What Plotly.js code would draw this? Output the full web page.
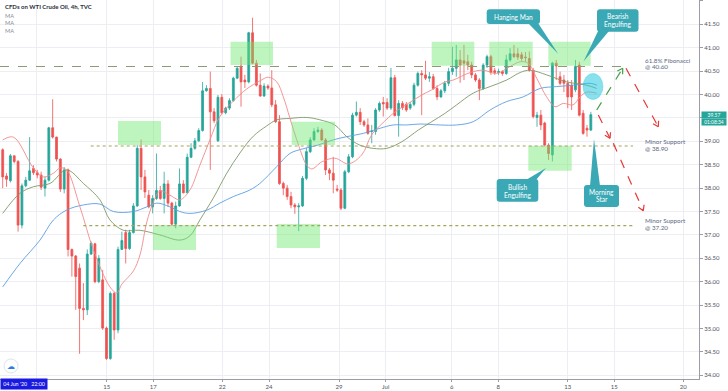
<!DOCTYPE html>
<html><head><meta charset="utf-8">
<script src="https://cdn.plot.ly/plotly-3.0.1.min.js"></script>
<style>html,body{margin:0;padding:0;background:#fff;}#chart{width:728px;height:391px;}</style>
</head><body><div id="chart"></div>
<script>
// ---- data (4h bars) ----
const opens = [38.82,38.26,38.16,38.69,38.57,37.21,38.05,38.17,38.42,38.33,
38.28,38.00,38.17,39.29,39.09,38.62,37.98,38.39,36.69,36.55,
36.29,35.43,35.40,36.59,36.81,36.00,36.04,35.01,34.36,35.75,
34.97,36.69,37.05,36.71,37.05,37.62,38.85,38.24,37.85,37.60,
37.78,37.95,37.78,38.09,37.68,37.23,37.62,38.09,37.90,38.66,
38.85,39.01,39.23,40.08,40.13,39.63,39.01,39.94,39.61,39.71,
39.87,40.35,40.61,40.31,40.27,41.32,40.67,40.20,39.97,40.18,
40.14,39.78,39.42,38.10,38.00,37.82,37.64,37.60,37.62,38.21,
38.78,39.03,39.21,39.24,39.03,38.39,38.32,37.98,37.96,37.57,
38.35,38.67,39.56,39.62,39.42,39.35,39.21,39.21,39.67,39.83,
39.83,39.71,40.36,39.55,39.81,39.79,39.71,39.79,40.20,40.45,
40.42,40.35,40.38,40.13,39.95,40.08,40.24,40.49,40.56,40.74,
40.72,40.70,40.63,40.42,40.31,40.13,40.63,40.81,40.51,40.47,
40.49,40.45,40.74,40.87,40.87,40.85,40.80,40.77,40.52,39.51,
39.56,39.39,38.92,38.71,40.67,40.38,40.31,40.24,40.20,40.10,
40.63,39.60,39.28,39.24];
const highs = [38.85,38.32,38.73,38.70,38.60,38.10,38.24,39.09,38.49,38.39,
38.35,38.24,39.31,39.90,39.10,38.64,38.45,38.42,36.71,36.57,
36.39,35.97,36.69,36.86,36.83,36.57,36.25,35.04,35.79,35.79,
36.75,37.07,37.11,37.11,37.68,38.92,39.04,38.39,37.96,37.85,
38.74,38.05,38.35,38.17,37.71,37.71,38.42,38.17,38.74,38.96,
39.07,39.28,40.27,40.20,40.49,39.71,39.99,40.01,39.74,39.92,
40.38,40.60,40.81,40.42,41.34,41.64,40.74,40.45,40.24,40.22,
40.52,39.88,39.56,38.14,38.07,37.92,37.68,37.68,38.26,38.86,
39.09,39.28,39.31,39.28,39.07,38.43,38.67,38.07,38.00,38.39,
38.73,39.61,39.85,39.71,39.46,39.49,39.35,39.71,39.85,39.95,
39.92,40.57,40.42,39.88,39.86,39.84,39.84,40.25,40.49,40.52,
40.72,40.48,40.44,40.20,40.12,40.29,40.57,41.02,41.06,40.95,
41.06,40.85,40.70,40.46,40.35,40.67,40.85,40.85,40.57,40.55,
40.52,40.85,40.99,41.06,40.99,40.91,40.91,40.92,40.57,39.63,
39.67,39.42,38.96,40.70,40.74,40.49,40.42,40.31,40.31,40.74,
40.70,39.67,39.35,39.63];
const lows = [38.00,38.03,38.12,38.53,37.07,37.14,38.02,38.16,38.28,38.21,
37.96,37.82,38.14,39.06,38.57,37.92,37.89,36.54,36.11,35.40,
34.46,35.18,35.29,36.57,35.97,35.97,34.97,34.33,34.33,34.76,
34.90,36.68,36.39,36.68,37.03,37.60,37.96,37.79,37.57,37.46,
37.75,37.75,37.46,37.60,37.19,37.14,37.60,37.89,37.89,38.64,
38.82,38.99,39.21,40.06,38.39,39.39,38.99,39.58,39.58,39.67,
39.85,40.33,39.74,40.14,40.24,40.65,40.17,39.95,39.95,40.10,
39.73,39.39,38.07,37.85,37.75,37.57,37.45,37.08,37.60,38.17,
38.75,39.01,39.18,39.01,38.28,38.17,37.89,37.92,37.53,37.55,
38.32,38.64,39.53,39.35,39.31,39.14,38.96,39.14,39.63,39.53,
39.67,39.67,39.53,39.10,39.67,39.63,39.67,39.75,40.17,39.56,
40.31,40.27,40.10,39.88,39.93,40.03,40.18,40.42,40.38,40.25,
40.31,40.52,40.35,40.27,39.88,40.10,40.57,40.42,40.42,40.42,
40.40,40.42,40.70,40.78,40.74,40.72,40.70,40.49,39.49,39.31,
39.24,38.89,38.60,38.57,40.31,40.20,40.05,39.71,39.67,40.05,
39.53,39.14,39.10,39.22];
const closes = [38.24,38.19,38.69,38.57,37.21,38.05,38.17,38.37,38.33,38.28,
38.02,38.17,39.29,39.09,38.62,37.98,38.39,36.69,36.55,36.11,
35.43,35.40,36.59,36.82,36.00,36.50,35.01,34.36,35.75,34.97,
36.69,36.88,36.71,37.05,37.62,38.85,38.24,37.92,37.60,37.78,
37.95,37.78,38.09,37.68,37.23,37.62,38.09,37.90,38.66,38.85,
39.01,39.23,40.08,40.13,39.63,39.44,39.94,39.61,39.71,39.87,
40.35,40.56,40.27,40.27,41.32,40.67,40.20,39.97,40.18,40.14,
39.78,39.42,38.10,38.00,37.82,37.64,37.60,37.62,38.21,38.78,
39.03,39.21,39.24,39.03,38.39,38.32,38.17,37.96,37.57,38.35,
38.67,39.56,39.62,39.42,39.35,39.17,39.22,39.67,39.81,39.80,
39.71,40.36,39.55,39.81,39.72,39.67,39.79,40.20,40.45,40.42,
40.35,40.38,40.13,39.95,40.08,40.24,40.49,40.56,40.74,40.63,
40.67,40.63,40.42,40.31,40.13,40.63,40.81,40.47,40.47,40.49,
40.45,40.74,40.87,40.81,40.80,40.77,40.79,40.52,39.53,39.56,
39.35,38.92,38.74,40.67,40.61,40.24,40.24,39.95,39.95,40.60,
39.56,39.17,39.24,39.57];

// moving averages (x = bar number)
const maFastX = [0,2.8,8,10.6,13.2,14.9,16.6,20.1,23.6,27.9,29.7,31,34,35.7,37.5,39.2,40.9,43.5,46.1,48.7,51.3,53.9,56.5,60,63.5,66.9,69.1,71.3,73,74.7,76.5,79.1,80.4,83,86.4,89.9,93.4,96,98.6,102.1,105.5,109,111.6,115.1,117.2,121.6,125,128.5,132,134.6,136.7,138.9,141.5,143.7,145.8,148.4,150.2,151.9,154.5];
const maFastY = [39.03,39.09,38.43,38.24,38.32,38.43,38.39,37.60,36.68,35.89,35.76,35.95,36.23,36.57,37.28,37.70,37.94,37.85,37.75,37.96,38.49,39.03,39.53,39.86,40.12,40.29,40.37,40.27,39.95,39.50,39.03,38.49,38.41,38.56,38.64,38.52,38.71,39.14,39.37,39.63,39.81,39.99,40.10,40.27,40.31,40.47,40.52,40.45,40.60,40.70,40.67,40.35,39.95,39.74,39.81,39.78,39.95,40.05,40.03];
const maMidX = [0,4.5,8,12.3,16.6,21,25.3,27.9,31.4,35.7,40.9,46.1,48.7,51.3,54.8,58.3,61.7,65.2,68.7,71.3,74.7,79.1,82.5,86.4,89.5,92.9,96.4,99.9,103.8,108.1,111.6,115.1,118.1,122.4,126.8,131.1,134.6,137.2,141.5,146.7,151.9,154.5];
const maMidY = [37.46,37.89,38.03,38.10,38.39,38.10,37.75,37.32,37.10,37.10,37.00,36.89,36.98,37.32,37.79,38.32,38.75,39.11,39.33,39.46,39.49,39.51,39.46,39.35,39.10,38.92,38.85,38.85,38.99,39.24,39.42,39.60,39.78,40.03,40.17,40.31,40.47,40.52,40.42,40.27,40.20,40.13];
const maSlowX = [0,4.5,9.7,13.2,16.6,21,25.3,28.8,34,37.5,40.1,43.5,46.1,48.7,53.1,56.5,60,64.3,66.9,71.3,74.7,78.1,82,85.9,89.5,93.8,98.2,101.6,105.1,108.6,113.8,118.1,122.4,126.8,131.1,135.4,139.8,144.1,148.5,152.8,154.6];
const maSlowY = [35.89,36.39,36.89,37.32,37.53,37.64,37.66,37.50,37.50,37.60,37.68,37.60,37.50,37.46,37.53,37.68,37.82,37.96,38.10,38.46,38.74,38.84,38.92,39.03,39.10,39.17,39.28,39.35,39.35,39.37,39.35,39.35,39.42,39.67,39.85,39.95,40.13,40.17,40.20,40.24,40.20];

// x ticks (first label "10" is hidden under the date box in the reference)
const tickPos = [8.85,27.05,39.18,57.13,69.28,87.49,99.64,116.8,128.93,146.98,159.1,177.05];
const tickText = ['','15','17','22','24','29','Jul','6','8','13','15','20'];
// y ticks (39.50 is hidden under the last-price box in the reference)
const yTickVals = [34,34.5,35,35.5,36,36.5,37,37.5,38,38.5,39,39.5,40,40.5,41,41.5,42];
const yTickText = ['34.00','34.50','35.00','35.50','36.00','36.50','37.00','37.50','38.00','38.50','39.00','','40.00','40.50','41.00','41.50','42.00'];
const fibLevel = 40.60, support1 = 38.90, support2 = 37.20;
const lastPrice = 39.57;

// ---- geometry helpers (screen px -> data) ----
const X0PX = 2.7, BARPX = 3.844, YTOP = 42.02, DOLPX = 46.8, PW = 699, PH = 379;
const bx = px => (px - X0PX) / BARPX;
const py = p => YTOP - p / DOLPX;
const P = (x, y) => bx(x) + ',' + py(y);
const FONT = 'Lato, "Open Sans", sans-serif';

const idx = opens.map((_, i) => i);

const traces = [
  {type:'candlestick', x: idx, open: opens, high: highs, low: lows, close: closes,
   increasing:{line:{color:'#26a69a', width:0.8}, fillcolor:'#26a69a'},
   decreasing:{line:{color:'#ef5350', width:0.8}, fillcolor:'#ef5350'},
   whiskerwidth:0, hoverinfo:'skip', showlegend:false},
  {type:'scatter', mode:'lines', x: maSlowX, y: maSlowY, line:{color:'#5b9de3', width:0.9, shape:'spline'}, hoverinfo:'skip', showlegend:false},
  {type:'scatter', mode:'lines', x: maMidX, y: maMidY, line:{color:'#7e9868', width:0.9, shape:'spline'}, hoverinfo:'skip', showlegend:false},
  {type:'scatter', mode:'lines', x: maFastX, y: maFastY, line:{color:'#f28a8a', width:0.9, shape:'spline'}, hoverinfo:'skip', showlegend:false}
];

const shapes = [];
// highlight boxes (px rects)
[[118,161,121,145],[153,196,225,250],[230.5,273,41.7,65],[291.7,335,121.7,145],[276.7,320,224,248],
 [431.7,474.3,41.7,65.7],[489.3,532.7,41.7,65.7],[548.3,590.7,41.7,65.7],[528.3,571.7,145.7,170.7]].forEach(r => {
  shapes.push({type:'rect', xref:'x', yref:'y', x0:bx(r[0]), x1:bx(r[1]), y0:py(r[3]), y1:py(r[2]),
    fillcolor:'rgba(110,232,110,0.45)', line:{width:0}, layer:'above'});
});
// levels
shapes.push({type:'line', xref:'x', yref:'y', x0:bx(0), x1:bx(630), y0:fibLevel, y1:fibLevel, line:{color:'#8d9a76', width:1.1, dash:'dash'}});
shapes.push({type:'line', xref:'x', yref:'y', x0:bx(90.7), x1:bx(633), y0:support1, y1:support1, line:{color:'#a3a65c', width:1.1, dash:'dot'}});
shapes.push({type:'line', xref:'x', yref:'y', x0:bx(83.3), x1:bx(633), y0:support2, y1:support2, line:{color:'#a3a65c', width:1.1, dash:'dot'}});
// cyan ellipse
shapes.push({type:'circle', xref:'x', yref:'y', x0:bx(583), x1:bx(603), y0:py(99.5), y1:py(73.5),
  fillcolor:'rgba(40,200,222,0.55)', line:{color:'rgba(40,200,222,0.7)', width:0.5}, layer:'above'});

// projection arrows
function arrow(x1, y1, x2, y2, color) {
  shapes.push({type:'line', xref:'x', yref:'y', x0:x1, y0:y1, x1:x2, y1:y2, line:{color, width:1.2, dash:'dash'}});
  const vx = (x2 - x1) * BARPX, vy = -(y2 - y1) * DOLPX;
  const L = Math.hypot(vx, vy), ux = vx / L, uy = vy / L;
  [0.55, -0.55].forEach(a => {
    const c = Math.cos(a), s = Math.sin(a);
    const rx = -(ux * c - uy * s) * 6, ry = -(ux * s + uy * c) * 6;
    shapes.push({type:'line', xref:'x', yref:'y', x0:x2, y0:y2, x1:x2 + rx / BARPX, y1:y2 - ry / DOLPX, line:{color, width:1.2}});
  });
}
arrow(bx(596.7), py(110), bx(622.7), py(68.3), '#43a047');
arrow(bx(626), py(68.3), bx(658.3), py(126.7), '#e53935');
arrow(bx(598.3), py(115), bx(610), py(138.3), '#e53935');
arrow(bx(613.3), py(143.3), bx(643.3), py(210.7), '#e53935');

// callouts
const CALL = '#3aa8b5';
function rrect(x0, y0, x1, y1, r) {
  return 'M' + P(x0 + r, y0) + ' L' + P(x1 - r, y0) + ' Q' + P(x1, y0) + ' ' + P(x1, y0 + r) +
    ' L' + P(x1, y1 - r) + ' Q' + P(x1, y1) + ' ' + P(x1 - r, y1) + ' L' + P(x0 + r, y1) +
    ' Q' + P(x0, y1) + ' ' + P(x0, y1 - r) + ' L' + P(x0, y0 + r) + ' Q' + P(x0, y0) + ' ' + P(x0 + r, y0) + ' Z';
}
function callout(rect, tail) {
  shapes.push({type:'path', xref:'x', yref:'y', path: rrect(rect[0], rect[1], rect[2], rect[3], 3), fillcolor:CALL, line:{width:0}, layer:'above'});
  shapes.push({type:'path', xref:'x', yref:'y', path: 'M' + P(tail[0][0], tail[0][1]) + ' L' + P(tail[1][0], tail[1][1]) + ' L' + P(tail[2][0], tail[2][1]) + ' Z', fillcolor:CALL, line:{width:0}, layer:'above'});
}
callout([486.7, 9.3, 540, 24], [[528, 23], [538, 23], [558.3, 54]]);
callout([597, 9.3, 638.5, 31.7], [[600, 27], [609, 31], [583.5, 61.5]]);
callout([496.7, 179, 538.3, 201.7], [[526, 180], [536, 180], [546, 168]]);
callout([584, 185, 619, 207], [[590, 186], [600, 186], [594, 139]]);

// cloud icon circle
shapes.push({type:'circle', xref:'x', yref:'y', x0:bx(4), x1:bx(18), y0:py(373), y1:py(359), fillcolor:'#ffffff', line:{color:'#e0e3eb', width:1}});

const annotations = [];
function txt(t, x, y, size, color, anchor, bold) {
  annotations.push({xref:'x', yref:'y', x:bx(x), y:py(y), text: bold ? '<b>' + t + '</b>' : t, showarrow:false,
    xanchor: anchor || 'left', yanchor:'middle', font:{family:FONT, size, color}});
}
const lab = '#5e6a84';
txt('61.8% Fibonacci', 642.7, 60.3, 6.3, lab);
txt('@ 40.60', 642.7, 66.9, 6.3, lab);
txt('Minor Support', 642.7, 141.7, 6.3, lab);
txt('@ 38.90', 642.7, 148, 6.3, lab);
txt('Minor Support', 642.7, 220.7, 6.3, lab);
txt('@ 37.20', 642.7, 227, 6.3, lab);
txt('Hanging Man', 513.3, 16.7, 6.6, '#ffffff', 'center');
txt('Bearish', 617.7, 16.2, 6.6, '#ffffff', 'center');
txt('Engulfing', 617.7, 24.2, 6.6, '#ffffff', 'center');
txt('Bullish', 517.5, 186.8, 6.6, '#ffffff', 'center');
txt('Engulfing', 517.5, 194.5, 6.6, '#ffffff', 'center');
txt('Morning', 601.5, 191.5, 6.6, '#ffffff', 'center');
txt('Star', 601.5, 198.8, 6.6, '#ffffff', 'center');
txt('\u2601', 11, 366, 8, '#2f7de1', 'center');

function ptxt(t, x, y, size, color, bold) {
  annotations.push({xref:'paper', yref:'paper', x:x / PW, y:1 - y / PH, text: bold ? '<b>' + t + '</b>' : t, showarrow:false,
    xanchor:'left', yanchor:'middle', font:{family:FONT, size, color}});
}
ptxt('CFDs on WTI Crude Oil, 4h, TVC', 3, 6.7, 6, '#2a2e39', true);
ptxt('MA', 3, 15, 5.6, '#8a8d96');
ptxt('MA', 3, 23, 5.6, '#8a8d96');
ptxt('MA', 3, 30.8, 5.6, '#8a8d96');

// date box bottom-left
annotations.push({xref:'paper', yref:'paper', x:0, y:1 - 384 / PH, xanchor:'left', yanchor:'middle',
  text:"04 Jun '20&nbsp;&nbsp;&nbsp;22:00", showarrow:false, bgcolor:'#1a1ae0', width:46, height:10, borderpad:0,
  font:{family:FONT, size:5.3, color:'#ffffff'}});
// last price labels
annotations.push({xref:'paper', yref:'y', x:701 / PW, y:lastPrice, xanchor:'left', yanchor:'middle', text:lastPrice.toFixed(2),
  showarrow:false, bgcolor:'#26a69a', width:24, height:5.6, borderpad:0, font:{family:FONT, size:5, color:'#ffffff'}});
annotations.push({xref:'paper', yref:'y', x:701 / PW, y:py(121.6), xanchor:'left', yanchor:'middle', text:'01:08:34',
  showarrow:false, bgcolor:'#26a69a', width:24, height:5.6, borderpad:0, font:{family:FONT, size:4.9, color:'#ffffff'}});

const layout = {
  width:728, height:391, margin:{l:0, r:29, t:0, b:12}, paper_bgcolor:'#ffffff', plot_bgcolor:'#ffffff',
  showlegend:false, font:{family:FONT},
  xaxis:{range:[bx(0), bx(PW)], rangeslider:{visible:false}, tickmode:'array', tickvals:tickPos, ticktext:tickText,
    showgrid:true, gridcolor:'#eceef3', gridwidth:1, zeroline:false, showline:true, linecolor:'#9a9da6', linewidth:1,
    ticks:'outside', ticklen:2, tickcolor:'#9a9da6', tickfont:{family:FONT, size:6, color:'#50535e'}, fixedrange:true},
  yaxis:{side:'right', range:[py(PH), YTOP], tickmode:'array', tickvals:yTickVals, ticktext:yTickText,
    showgrid:true, gridcolor:'#eceef3', gridwidth:1, zeroline:false, showline:true, linecolor:'#9a9da6', linewidth:1,
    ticks:'outside', ticklen:3, tickcolor:'#9a9da6', tickfont:{family:FONT, size:6, color:'#50535e'}, fixedrange:true},
  shapes, annotations
};

Plotly.newPlot('chart', traces, layout, {displayModeBar:false, staticPlot:true});
</script>
</body></html>
